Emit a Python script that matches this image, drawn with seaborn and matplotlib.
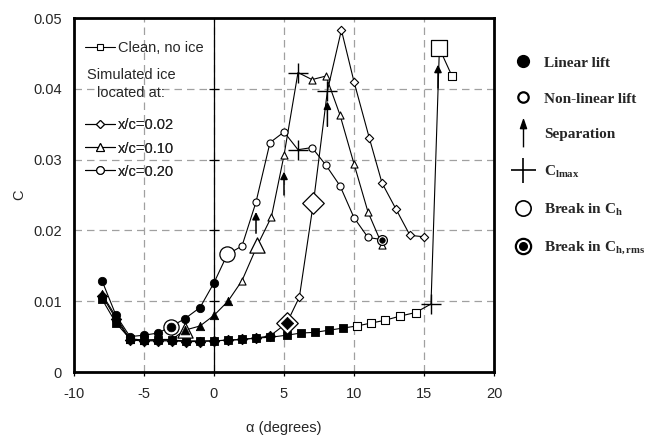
import numpy as np
import pandas as pd
import matplotlib
matplotlib.use("Agg")
import matplotlib.pyplot as plt
import seaborn as sns
from matplotlib.lines import Line2D
from matplotlib.path import Path
from matplotlib.legend_handler import HandlerTuple

# ---------------- data ----------------
clean_alpha = [-8, -7, -6, -5, -4, -3, -2, -1, 0, 1, 2, 3, 4, 5.2, 6.2, 7.2, 8.2, 9.2,
               10.2, 11.2, 12.2, 13.3, 14.4, 15.5, 16.1, 17.0]
clean_C = [0.0103, 0.0069, 0.0047, 0.0045, 0.0045, 0.0045, 0.0044, 0.0044, 0.0044, 0.0045,
           0.0046, 0.0048, 0.0049, 0.0052, 0.0055, 0.0056, 0.0059, 0.0062,
           0.0065, 0.0069, 0.0073, 0.0079, 0.0084, 0.0096, 0.0457, 0.0418]
clean_kind = ["lin"] * 18 + ["non"] * 5 + ["clmax", "brk", "non"]

d02_alpha = [-8, -7, -6, -5, -4, -3, -2, -1, 0, 1, 2, 3, 4, 5.2, 6.1, 7.1, 8.1, 9.1,
             10.0, 11.1, 12.0, 13.0, 14.0, 15.0]
d02_C = [0.0108, 0.0075, 0.0045, 0.0044, 0.0044, 0.0044, 0.0043, 0.0043, 0.0044, 0.0045,
         0.0046, 0.0048, 0.0051, 0.0069, 0.0106, 0.0239, 0.0397, 0.0483,
         0.0410, 0.0330, 0.0267, 0.0230, 0.0193, 0.0191]
d02_kind = ["lin"] * 13 + ["brkrms", "non", "brk", "clmax"] + ["non"] * 7

d10_alpha = [-8, -7, -6, -5, -4, -3, -2.1, -1, 0, 1, 2, 3.1, 4.1, 5.0, 6.0, 7.0, 8.0,
             9.0, 10.0, 11.0, 12.0]
d10_C = [0.0110, 0.0078, 0.0046, 0.0045, 0.0046, 0.0046, 0.0059, 0.0065, 0.0080, 0.0100,
         0.0129, 0.0179, 0.0219, 0.0306, 0.0423, 0.0413, 0.0418,
         0.0363, 0.0294, 0.0226, 0.0180]
d10_kind = ["lin"] * 6 + ["brkrms"] + ["lin"] * 3 + ["non", "brk", "non", "non", "clmax"] + ["non"] * 6

d20_alpha = [-8, -7, -6, -5, -4, -3.1, -2.1, -1, 0, 0.95, 2, 3, 4, 5, 6, 7, 8, 9, 10, 11, 12]
d20_C = [0.0129, 0.0080, 0.0050, 0.0052, 0.0055, 0.0064, 0.0075, 0.0091, 0.0126, 0.0166,
         0.0178, 0.0240, 0.0324, 0.0339, 0.0314, 0.0317, 0.0292, 0.0263, 0.0218, 0.0190, 0.0187]
d20_kind = ["lin"] * 5 + ["brkrms"] + ["lin"] * 3 + ["brk"] + ["non"] * 4 + ["clmax"] + ["non"] * 5 + ["brkrms_s"]

# separation arrows (alpha, C at tail, C at head)
sep_alpha = [3.0, 5.0, 8.1, 16.0]
sep_lo = [0.0196, 0.0250, 0.0347, 0.0401]
sep_hi = [0.0226, 0.0283, 0.0382, 0.0434]

series_names = ["clean", "x/c=0.02", "x/c=0.10", "x/c=0.20"]
x_ticks = [-10, -5, 0, 5, 10, 15, 20]
x_ticklabels = ["-10", "-5", "0", "5", "10", "15", "20"]
y_ticks = [0, 0.01, 0.02, 0.03, 0.04, 0.05]
y_ticklabels = ["0", "0.01", "0.02", "0.03", "0.04", "0.05"]

frames = []
for name, a, c, k in zip(series_names,
                         [clean_alpha, d02_alpha, d10_alpha, d20_alpha],
                         [clean_C, d02_C, d10_C, d20_C],
                         [clean_kind, d02_kind, d10_kind, d20_kind]):
    frames.append(pd.DataFrame({"series": name, "alpha": a, "C": c, "kind": k}))
df = pd.concat(frames, ignore_index=True)

markers = {"clean": "s", "x/c=0.02": "D", "x/c=0.10": "^", "x/c=0.20": "o"}

# ---------------- style ----------------
sns.set_theme(style="white")
plt.rcParams["font.family"] = ["Liberation Sans", "DejaVu Sans"]
plt.rcParams["axes.unicode_minus"] = False
plt.rcParams["mathtext.fontset"] = "custom"
plt.rcParams["mathtext.rm"] = "Liberation Serif:bold"
plt.rcParams["mathtext.it"] = "Liberation Serif:bold"
plt.rcParams["mathtext.bf"] = "Liberation Serif:bold"

fig = plt.figure(figsize=(6.46, 4.41), dpi=100)
ax = fig.add_axes([74 / 646, 69 / 441, 420 / 646, 354 / 441])

# grid and axis at zero
ax.set_xlim(-10, 20)
ax.set_ylim(0, 0.05)
ax.set_xticks(x_ticks)
ax.set_xticklabels(x_ticklabels)
ax.set_yticks(y_ticks)
ax.set_yticklabels(y_ticklabels)
ax.grid(True, color="#a0a0a0", ls=(0, (6, 4)), lw=0.9)
ax.set_axisbelow(True)
ax.axvline(0, color="black", lw=0.9, zorder=1)
ax.plot([0] * len(y_ticks[1:-1]), y_ticks[1:-1], ls="", marker="_", ms=7,
        mew=0.9, color="black", zorder=1)

# lines
sns.lineplot(data=df, x="alpha", y="C", hue="series", palette=["black"] * 4,
             estimator=None, sort=False, lw=0.8, legend=False, ax=ax, zorder=2)

# markers
for name in series_names:
    m = markers[name]
    sub = df[df.series == name]
    small = 30 if m != "D" else 22
    lin = sub[sub.kind == "lin"]
    sns.scatterplot(data=lin, x="alpha", y="C", marker=m, s=small + 6, color="black",
                    edgecolor="black", linewidth=0.6, ax=ax, zorder=3, legend=False)
    non = sub[sub.kind == "non"]
    sns.scatterplot(data=non, x="alpha", y="C", marker=m, s=small - 4, color="white",
                    edgecolor="black", linewidth=0.8, ax=ax, zorder=3, legend=False)
    brk = sub[sub.kind == "brk"]
    sns.scatterplot(data=brk, x="alpha", y="C", marker=m, s=120, color="white",
                    edgecolor="black", linewidth=0.9, ax=ax, zorder=3, legend=False)
    rms = sub[sub.kind == "brkrms"]
    sns.scatterplot(data=rms, x="alpha", y="C", marker=m, s=120, color="white",
                    edgecolor="black", linewidth=0.9, ax=ax, zorder=3, legend=False)
    sns.scatterplot(data=rms, x="alpha", y="C", marker=m, s=40, color="black",
                    edgecolor="black", linewidth=0.5, ax=ax, zorder=4, legend=False)
    rms_s = sub[sub.kind == "brkrms_s"]
    sns.scatterplot(data=rms_s, x="alpha", y="C", marker=m, s=50, color="white",
                    edgecolor="black", linewidth=0.9, ax=ax, zorder=3, legend=False)
    sns.scatterplot(data=rms_s, x="alpha", y="C", marker=m, s=16, color="black",
                    edgecolor="black", linewidth=0.5, ax=ax, zorder=4, legend=False)
    cl = sub[sub.kind == "clmax"]
    sns.scatterplot(data=cl, x="alpha", y="C", marker="+", s=190, color="black",
                    linewidth=1.0, ax=ax, zorder=4, legend=False)

# separation arrows
for a, lo, hi in zip(sep_alpha, sep_lo, sep_hi):
    ax.annotate("", xy=(a, hi), xytext=(a, lo),
                arrowprops=dict(arrowstyle="-|>", color="black", lw=1.1,
                                mutation_scale=11, shrinkA=0, shrinkB=0), zorder=5)

# axes cosmetics
for sp in ax.spines.values():
    sp.set_visible(True)
    sp.set_color("black")
    sp.set_linewidth(2)
ax.tick_params(axis="x", direction="out", length=3, width=0.9, color="black",
               pad=8, labelsize=10.5, bottom=True)
ax.tick_params(axis="y", length=0, pad=9, labelsize=10.5)
ax.set_xlabel("\u03b1 (degrees)", fontsize=10.5, labelpad=14)
ax.set_ylabel("C", fontsize=10.5, labelpad=5)

# ---------------- left (in-axes) legend ----------------
fs_leg = 10.5
h_clean = Line2D([], [], color="black", lw=0.8, marker="s", ms=5, mfc="white", mec="black", mew=0.8)
leg1 = ax.legend([h_clean], ["Clean, no ice"], loc="center left",
                 bbox_to_anchor=(11 / 420, (372 - 48) / 354), frameon=False,
                 borderpad=0, borderaxespad=0, handlelength=2.05, handletextpad=0.2,
                 prop={"family": "Liberation Sans", "size": fs_leg})
ax.add_artist(leg1)
ax.text((131 - 74) / 420, (372 - 84) / 354, "Simulated ice\nlocated at:",
        transform=ax.transAxes, ha="center", va="center", multialignment="center",
        fontsize=fs_leg, linespacing=1.45)
h_ice = [Line2D([], [], color="black", lw=0.8, marker=m, ms=ms, mfc="white", mec="black", mew=0.8)
         for m, ms in (("D", 4.2), ("^", 5.5), ("o", 5.5))]
leg2 = ax.legend(h_ice, ["x/c=0.02", "x/c=0.10", "x/c=0.20"], loc="center left",
                 bbox_to_anchor=(11 / 420, (372 - 148.5) / 354), frameon=False,
                 borderpad=0, borderaxespad=0, handlelength=2.05, handletextpad=0.2,
                 labelspacing=0.62, prop={"family": "Liberation Sans", "size": fs_leg})
ax.add_artist(leg2)

# ---------------- right (figure) legend ----------------
arrow_path = Path([(-0.22, 0.35), (0.22, 0.35), (0.0, 1.0), (-0.22, 0.35),
                   (0.0, 0.35), (0.0, -1.0)],
                  [Path.MOVETO, Path.LINETO, Path.LINETO, Path.CLOSEPOLY,
                   Path.MOVETO, Path.LINETO])
r_handles = [
    Line2D([], [], ls="", marker="o", ms=8.5, mfc="black", mec="black"),
    Line2D([], [], ls="", marker="o", ms=7.5, mfc="white", mec="black", mew=1.6),
    Line2D([], [], ls="", marker=arrow_path, ms=20, mfc="black", mec="black", mew=1.0),
    Line2D([], [], ls="", marker="+", ms=18, mec="black", mew=1.2),
    Line2D([], [], ls="", marker="o", ms=11, mfc="white", mec="black", mew=1.2),
    (Line2D([], [], ls="", marker="o", ms=11, mfc="white", mec="black", mew=1.6),
     Line2D([], [], ls="", marker="o", ms=5.5, mfc="black", mec="black")),
]
r_labels = ["Linear lift", "Non-linear lift", "Separation", r"C$_{\rm lmax}$",
            r"Break in C$_{\rm h}$", r"Break in C$_{\rm h,rms}$"]
fig.legend(r_handles, r_labels, loc="upper left", bbox_to_anchor=(512 / 646, 1 - 56 / 441),
           frameon=False, borderpad=0, borderaxespad=0, handlelength=1.5,
           handletextpad=0.6, labelspacing=1.45,
           handler_map={tuple: HandlerTuple(ndivide=1)},
           prop={"family": "Liberation Serif", "weight": "bold", "size": 11})

fig.savefig("out.png", dpi=100)
